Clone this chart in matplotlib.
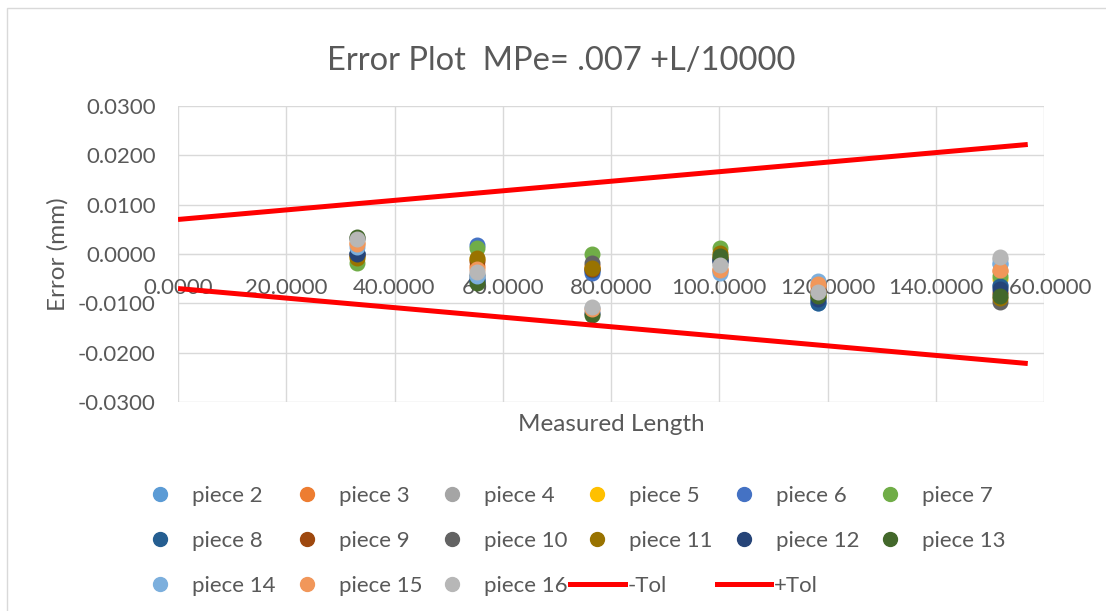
import numpy as np
import matplotlib.pyplot as plt
from matplotlib.lines import Line2D
from matplotlib.patches import Rectangle

plt.rcParams['font.family'] = ['Lato', 'DejaVu Sans']

# measured lengths (x) and errors of each piece at every length
lengths = [33.0, 55.2, 76.5, 100.1, 118.3, 151.8]
pieces = ['piece 2', 'piece 3', 'piece 4', 'piece 5', 'piece 6', 'piece 7', 'piece 8',
          'piece 9', 'piece 10', 'piece 11', 'piece 12', 'piece 13', 'piece 14',
          'piece 15', 'piece 16']
colors = ['#5B9BD5', '#ED7D31', '#A5A5A5', '#FFC000', '#4472C4', '#70AD47', '#255E91',
          '#9E480E', '#636363', '#997300', '#264478', '#43682B', '#7CAFDD',
          '#F1975A', '#B7B7B7']

#            p2       p3       p4       p5       p6       p7       p8       p9       p10      p11      p12      p13      p14      p15      p16
err_33  = [0.0000, 0.0022, 0.0030, -0.0005, 0.0000, -0.0018, 0.0002, -0.0003, 0.0032, -0.0008, 0.0000, 0.0035, 0.0015, 0.0020, 0.0030]
err_55  = [-0.0050, -0.0025, -0.0040, -0.0010, 0.0018, 0.0012, -0.0055, -0.0015, -0.0045, -0.0008, -0.0052, -0.0058, -0.0045, -0.0030, -0.0037]
err_77  = [-0.0035, -0.0025, -0.0030, -0.0028, -0.0038, 0.0001, -0.0032, -0.0030, -0.0018, -0.0028, -0.0120, -0.0124, -0.0110, -0.0112, -0.0107]
err_100 = [-0.0035, -0.0030, -0.0020, -0.0005, -0.0015, 0.0012, -0.0010, -0.0008, -0.0015, 0.0003, -0.0012, -0.0005, -0.0038, -0.0032, -0.0022]
err_118 = [-0.0100, -0.0065, -0.0078, -0.0085, -0.0095, -0.0080, -0.0100, -0.0075, -0.0080, -0.0088, -0.0092, -0.0085, -0.0055, -0.0060, -0.0077]
err_152 = [-0.0020, -0.0035, -0.0010, -0.0050, -0.0062, -0.0045, -0.0065, -0.0080, -0.0097, -0.0090, -0.0070, -0.0085, -0.0018, -0.0032, -0.0006]

# tolerance lines
tol_x = [0, 157]
plus_tol = [0.0070, 0.0222]
minus_tol = [-0.0070, -0.0222]

W, H = 1106, 611
def fx(px):
    return px / W
def fy(py):
    return 1 - py / H

grey_txt = '#595959'
grid_col = '#D9D9D9'

fig = plt.figure(figsize=(W / 100, H / 100), dpi=100)
ax = fig.add_axes([fx(178), fy(402), fx(1044) - fx(178), fy(106) - fy(402)])

errors = np.column_stack([err_33, err_55, err_77, err_100, err_118, err_152])
for name, col, errs in zip(pieces, colors, errors):
    ax.plot(lengths, errs, 'o', color=col, ms=10.5, zorder=3, label=name)
ax.plot(tol_x, minus_tol, color='#FF0000', lw=3.6, zorder=4, solid_capstyle='butt')
ax.plot(tol_x, plus_tol, color='#FF0000', lw=3.6, zorder=4, solid_capstyle='butt')

ax.set_xlim(0, 160)
ax.set_ylim(-0.03, 0.03)
ax.set_xticks([0, 20, 40, 60, 80, 100, 120, 140, 160])
ax.set_yticks([-0.03, -0.02, -0.01, 0, 0.01, 0.02, 0.03])
ax.set_xticklabels(['%.4f' % v for v in ax.get_xticks()])
ax.set_yticklabels(['%.4f' % v for v in [-0.03, -0.02, -0.01, 0, 0.01, 0.02, 0.03]])
ax.grid(True, color=grid_col, lw=1)
ax.set_axisbelow(True)
for s in ['top', 'right', 'left']:
    ax.spines[s].set_visible(False)
ax.spines['bottom'].set_position(('data', 0))
ax.spines['bottom'].set_color(grid_col)
ax.tick_params(length=0, colors=grey_txt, labelsize=16)
ax.tick_params(axis='x', pad=17)
ax.tick_params(axis='y', pad=16)

fig.text(fx(561), fy(70), 'Error Plot  MPe= .007 +L/10000', ha='center', va='baseline',
         fontsize=23.5, color=grey_txt)
fig.text(fx(611), fy(431), 'Measured Length', ha='center', va='baseline',
         fontsize=17.5, color=grey_txt)
fig.text(fx(58), fy(254), 'Error (mm)', ha='center', va='center', rotation=90,
         fontsize=17.5, color=grey_txt)

# legend, laid out row by row like the original
marker_x = [160, 307, 452, 597, 744, 890]
row_y = [494, 539, 584]
for i, (name, col) in enumerate(zip(pieces, colors)):
    r, c = divmod(i, 6)
    fig.add_artist(Line2D([fx(marker_x[c])], [fy(row_y[r])], marker='o', ms=10,
                          color=col, transform=fig.transFigure))
    fig.text(fx(marker_x[c] + 32), fy(row_y[r] + 8), name, va='baseline',
             fontsize=16, color=grey_txt)
for (x0, x1), name in zip([(570, 625), (717, 771)], ['-Tol', '+Tol']):
    fig.add_artist(Line2D([fx(x0), fx(x1)], [fy(row_y[2])] * 2, color='#FF0000', lw=3.6,
                          transform=fig.transFigure))
    fig.text(fx(x1 + 3), fy(row_y[2] + 8), name, va='baseline', fontsize=16, color=grey_txt)

fig.add_artist(Rectangle((fx(7), -0.1), 1.2, fy(8) + 0.1, transform=fig.transFigure,
                         fill=False, ec=grid_col, lw=1))

fig.savefig('out.png', dpi=100)
